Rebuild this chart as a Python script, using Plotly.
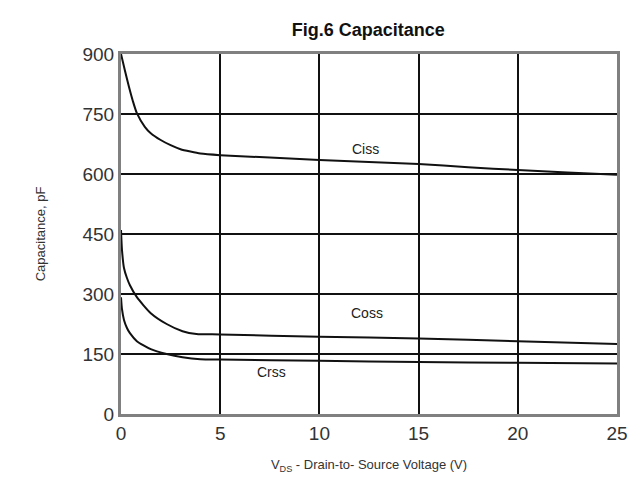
import plotly.graph_objects as go

# Drain-to-source voltage (V) and capacitances (pF)
vds_ciss = [0, 0.2, 0.4, 0.6, 0.8, 1.2, 1.5, 2.0, 2.5, 3.0, 3.5, 4.0, 5, 7.5, 10, 12.5, 15, 17.5, 20, 22.5, 25]
ciss = [900, 858, 818, 782, 752, 718, 702, 685, 672, 662, 656, 651, 647, 641, 635, 630, 625, 617, 610, 604, 598]

vds_coss = [0, 0.05, 0.15, 0.3, 0.45, 0.8, 1.5, 2.3, 3.1, 3.8, 5, 10, 15, 20, 25]
coss = [460, 410, 365, 340, 322, 292, 252, 225, 207, 200, 199, 193, 189, 182, 175]

vds_crss = [0, 0.05, 0.15, 0.3, 0.45, 0.8, 1.5, 2.3, 3.1, 4.0, 5, 10, 15, 20, 25]
crss = [292, 262, 235, 215, 202, 182, 162, 150, 142, 137, 136, 133, 130, 128, 126]

x_ticks = [0, 5, 10, 15, 20, 25]
y_ticks = [0, 150, 300, 450, 600, 750, 900]

labels = ["Ciss", "Coss", "Crss"]
label_x = [12.3, 12.4, 7.6]
label_y = [662, 252, 105]

fig = go.Figure()
for xs, ys in [(vds_ciss, ciss), (vds_coss, coss), (vds_crss, crss)]:
    fig.add_trace(go.Scatter(x=xs, y=ys, mode="lines", line=dict(color="#111111", width=2, shape="spline", smoothing=0.6), showlegend=False))

for name, lx, ly in zip(labels, label_x, label_y):
    fig.add_annotation(x=lx, y=ly, text=name, showarrow=False,
                       font=dict(family="Liberation Sans, Arial", size=14, color="#222222"))

# the page body has an 8px margin, so the figure is shrunk to fit the window
fig.update_layout(
    width=632, height=486,
    margin=dict(l=113, r=14, t=46, b=80),
    paper_bgcolor="white", plot_bgcolor="white",
    title=dict(text="<b>Fig.6 Capacitance</b>", x=0.57, xanchor="center", y=0.955, yanchor="middle",
               font=dict(family="Liberation Sans Narrow, Liberation Sans, Arial", size=18, color="#111111")),
)
fig.update_xaxes(range=[0, 25], tickvals=x_ticks, showgrid=True, gridcolor="#111111", gridwidth=1.6,
                 showline=True, linecolor="#808080", linewidth=3, mirror=True, zeroline=False,
                 ticks="", tickfont=dict(family="Liberation Sans, Arial", size=19, color="#333333"),
                 title=dict(text="V<sub>DS</sub> - Drain-to- Source Voltage (V)", standoff=18,
                            font=dict(family="Liberation Sans, Arial", size=13, color="#333333")))
fig.update_yaxes(range=[0, 900], tickvals=y_ticks, showgrid=True, gridcolor="#111111", gridwidth=1.6,
                 showline=True, linecolor="#808080", linewidth=3, mirror=True, zeroline=False,
                 ticks="", tickfont=dict(family="Liberation Sans, Arial", size=19, color="#333333"),
                 title=dict(text="Capacitance, pF", standoff=34,
                            font=dict(family="Liberation Sans, Arial", size=13, color="#333333")))

fig.write_html("out.html")
